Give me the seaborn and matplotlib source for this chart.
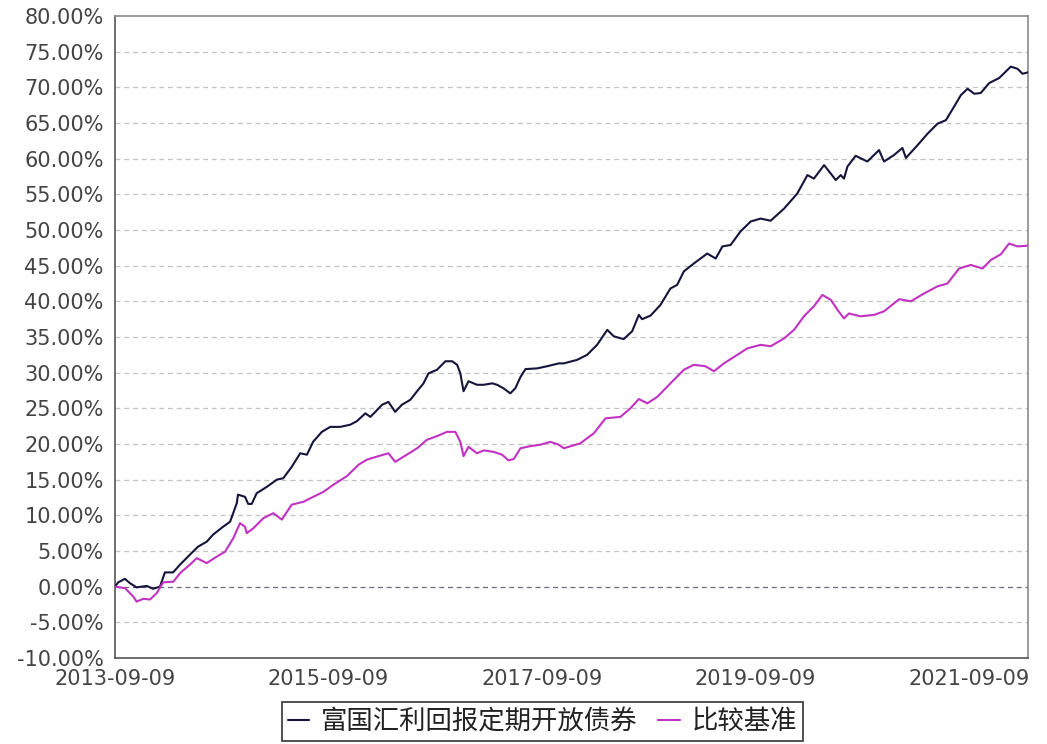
import pandas as pd
import matplotlib
matplotlib.use("Agg")
import matplotlib.pyplot as plt
import seaborn as sns

# Series (cumulative return, %)
fund_name = "富国汇利回报定期开放债券"
bench_name = "比较基准"

fund_dates = [
    "2013-09-09", "2013-09-20", "2013-10-13", "2013-10-30", "2013-11-22", "2013-12-27",
    "2014-01-17", "2014-02-10", "2014-02-27", "2014-03-27", "2014-04-20", "2014-05-24",
    "2014-06-20", "2014-07-20", "2014-08-11", "2014-09-14", "2014-10-08", "2014-10-31",
    "2014-11-04", "2014-11-28", "2014-12-09", "2014-12-21", "2015-01-07", "2015-02-11",
    "2015-03-17", "2015-04-08", "2015-05-07", "2015-06-05", "2015-06-28", "2015-07-19",
    "2015-08-18", "2015-09-16", "2015-10-20", "2015-11-23", "2015-12-16", "2016-01-14",
    "2016-01-31", "2016-02-17", "2016-03-11", "2016-04-02", "2016-04-25", "2016-05-18",
    "2016-06-16", "2016-07-09", "2016-07-31", "2016-08-17", "2016-09-15", "2016-10-14",
    "2016-11-06", "2016-11-23", "2016-12-04", "2016-12-15", "2017-01-01", "2017-01-30",
    "2017-02-22", "2017-03-23", "2017-04-09", "2017-05-01", "2017-05-24", "2017-06-10",
    "2017-06-28", "2017-07-15", "2017-08-24", "2017-09-27", "2017-11-06", "2017-11-23",
    "2018-01-08", "2018-02-11", "2018-03-17", "2018-04-21", "2018-05-13", "2018-06-16",
    "2018-07-15", "2018-08-07", "2018-08-18", "2018-09-16", "2018-10-20", "2018-11-23",
    "2018-12-16", "2019-01-08", "2019-02-11", "2019-03-29", "2019-04-27", "2019-05-20",
    "2019-06-17", "2019-07-21", "2019-08-25", "2019-09-28", "2019-11-01", "2019-12-17",
    "2020-01-31", "2020-03-06", "2020-03-28", "2020-05-02", "2020-06-11", "2020-06-28",
    "2020-07-09", "2020-07-21", "2020-08-18", "2020-09-27", "2020-11-06", "2020-11-23",
    "2020-12-27", "2021-01-25", "2021-02-06", "2021-03-18", "2021-04-21", "2021-05-25",
    "2021-06-23", "2021-07-21", "2021-08-13", "2021-09-05", "2021-09-28", "2021-10-20",
    "2021-11-18", "2021-12-22", "2022-01-31", "2022-02-23", "2022-03-12", "2022-03-31",
]
fund_values = [
    0.0, 0.6, 1.1, 0.5, -0.1, 0.1,
    -0.3, 0.0, 2.0, 2.0, 3.1, 4.5,
    5.6, 6.3, 7.3, 8.4, 9.1, 11.7,
    12.9, 12.6, 11.6, 11.6, 13.1, 14.0,
    15.0, 15.2, 16.8, 18.7, 18.5, 20.3,
    21.7, 22.4, 22.4, 22.7, 23.2, 24.3,
    23.8, 24.5, 25.5, 25.9, 24.5, 25.5,
    26.2, 27.4, 28.5, 29.9, 30.4, 31.6,
    31.6, 31.1, 29.9, 27.4, 28.8, 28.3,
    28.3, 28.5, 28.3, 27.8, 27.1, 27.8,
    29.4, 30.5, 30.6, 30.9, 31.3, 31.3,
    31.8, 32.5, 33.9, 36.0, 35.1, 34.7,
    35.8, 38.1, 37.5, 38.0, 39.5, 41.8,
    42.3, 44.2, 45.3, 46.7, 46.0, 47.7,
    47.9, 49.8, 51.2, 51.6, 51.3, 53.0,
    55.1, 57.7, 57.2, 59.1, 57.0, 57.7,
    57.2, 58.9, 60.4, 59.6, 61.2, 59.6,
    60.5, 61.5, 60.1, 61.9, 63.5, 64.9,
    65.4, 67.3, 68.9, 69.8, 69.1, 69.2,
    70.6, 71.3, 72.9, 72.6, 71.9, 72.1,
]

bench_dates = [
    "2013-09-09", "2013-10-13", "2013-11-11", "2013-11-22", "2013-12-15", "2014-01-07",
    "2014-01-30", "2014-02-21", "2014-03-28", "2014-04-20", "2014-05-24", "2014-06-16",
    "2014-07-20", "2014-08-23", "2014-09-21", "2014-10-19", "2014-11-11", "2014-11-28",
    "2014-12-04", "2014-12-27", "2015-01-30", "2015-03-05", "2015-04-03", "2015-05-07",
    "2015-06-16", "2015-07-20", "2015-08-24", "2015-09-27", "2015-11-12", "2015-12-22",
    "2016-01-19", "2016-02-28", "2016-04-02", "2016-04-25", "2016-06-04", "2016-07-09",
    "2016-08-12", "2016-09-15", "2016-10-19", "2016-11-17", "2016-12-04", "2016-12-15",
    "2017-01-01", "2017-01-30", "2017-02-22", "2017-03-28", "2017-04-26", "2017-05-18",
    "2017-06-05", "2017-06-28", "2017-08-01", "2017-09-04", "2017-10-08", "2017-11-06",
    "2017-11-23", "2018-01-19", "2018-03-06", "2018-04-15", "2018-06-05", "2018-07-09",
    "2018-08-07", "2018-09-05", "2018-10-09", "2018-11-23", "2019-01-08", "2019-02-11",
    "2019-03-23", "2019-04-21", "2019-05-25", "2019-07-10", "2019-08-13", "2019-09-28",
    "2019-11-01", "2019-12-17", "2020-01-20", "2020-02-23", "2020-03-28", "2020-04-26",
    "2020-05-25", "2020-06-17", "2020-07-09", "2020-07-26", "2020-09-04", "2020-10-20",
    "2020-11-23", "2021-01-14", "2021-02-23", "2021-04-09", "2021-05-25", "2021-06-28",
    "2021-08-07", "2021-09-16", "2021-10-26", "2021-11-24", "2021-12-28", "2022-01-25",
    "2022-02-23", "2022-03-31",
]
bench_values = [
    0.0, -0.2, -1.4, -2.1, -1.7, -1.8,
    -0.9, 0.6, 0.7, 1.9, 3.1, 4.0,
    3.3, 4.2, 4.9, 6.8, 8.9, 8.4,
    7.5, 8.2, 9.6, 10.3, 9.4, 11.5,
    11.9, 12.6, 13.3, 14.3, 15.5, 17.1,
    17.8, 18.3, 18.7, 17.5, 18.5, 19.4,
    20.6, 21.1, 21.7, 21.7, 20.3, 18.3,
    19.6, 18.7, 19.1, 18.9, 18.5, 17.7,
    17.9, 19.4, 19.7, 19.9, 20.3, 19.9,
    19.4, 20.1, 21.5, 23.6, 23.8, 25.0,
    26.3, 25.7, 26.6, 28.5, 30.4, 31.1,
    30.9, 30.2, 31.3, 32.5, 33.4, 33.9,
    33.7, 34.8, 36.0, 37.9, 39.3, 40.9,
    40.2, 38.8, 37.6, 38.3, 37.9, 38.1,
    38.6, 40.3, 40.0, 41.1, 42.1, 42.5,
    44.6, 45.1, 44.6, 45.8, 46.6, 48.1,
    47.7, 47.8,
]

tick_dates = ["2013-09-09", "2015-09-09", "2017-09-09", "2019-09-09", "2021-09-09"]
y_ticks = list(range(-10, 81, 5))

df = pd.concat([
    pd.DataFrame({"date": pd.to_datetime(fund_dates), "value": fund_values, "series": fund_name}),
    pd.DataFrame({"date": pd.to_datetime(bench_dates), "value": bench_values, "series": bench_name}),
], ignore_index=True)

sns.set_style("white")
plt.rcParams["font.family"] = ["DejaVu Sans", "Noto Sans CJK SC"]

fig = plt.figure(figsize=(10.47, 7.44), dpi=100)
ax = fig.add_axes([0.1098, 0.1156, 0.8721, 0.8629])

# grid first so the lines sit on top
for v in y_ticks:
    if v == 0:
        ax.axhline(v, color="#6a6a80", lw=0.9, ls=(0, (4, 3)), zorder=1)
    elif v not in (-10, 80):
        ax.axhline(v, color="#c4c4c4", lw=0.9, ls=(0, (4, 3)), zorder=1)

sns.lineplot(
    data=df, x="date", y="value", hue="series",
    palette={fund_name: "#14143c", bench_name: "#c232c2"},
    linewidth=1.5, ax=ax, legend=False, zorder=3,
)

ax.set_xlim(pd.Timestamp(fund_dates[0]), pd.Timestamp(fund_dates[-1]))
ax.set_ylim(-10, 80)
ax.set_yticks(y_ticks)
ax.set_yticklabels([f"{v:.2f}%" for v in y_ticks])
ax.set_xticks(pd.to_datetime(tick_dates))
ax.set_xticklabels(tick_dates)
ax.set_xlabel("")
ax.set_ylabel("")
ax.tick_params(axis="both", direction="out", length=4, width=1, color="#555555",
               labelsize=15, labelcolor="#444444")
ax.tick_params(axis="y", pad=4)
ax.tick_params(axis="x", pad=4)

for side, sp in ax.spines.items():
    sp.set_color("#555555" if side in ("left", "bottom") else "#8a8a8a")
    sp.set_linewidth(1.2)

handles = [
    plt.Line2D([], [], color="#14143c", lw=1.5),
    plt.Line2D([], [], color="#c232c2", lw=1.5),
]
leg = fig.legend(
    handles, [fund_name, bench_name], loc="lower center", ncol=2,
    bbox_to_anchor=(0.518, 0.004), borderaxespad=0, frameon=True, fancybox=False,
    edgecolor="black", handlelength=0.8, handletextpad=0.45, columnspacing=0.8,
    borderpad=0.22, prop={"family": ["Noto Sans CJK SC"], "size": 19},
)
leg.get_frame().set_linewidth(1.2)
for t in leg.get_texts():
    t.set_color("#222222")

fig.savefig("out.png", dpi=100)
